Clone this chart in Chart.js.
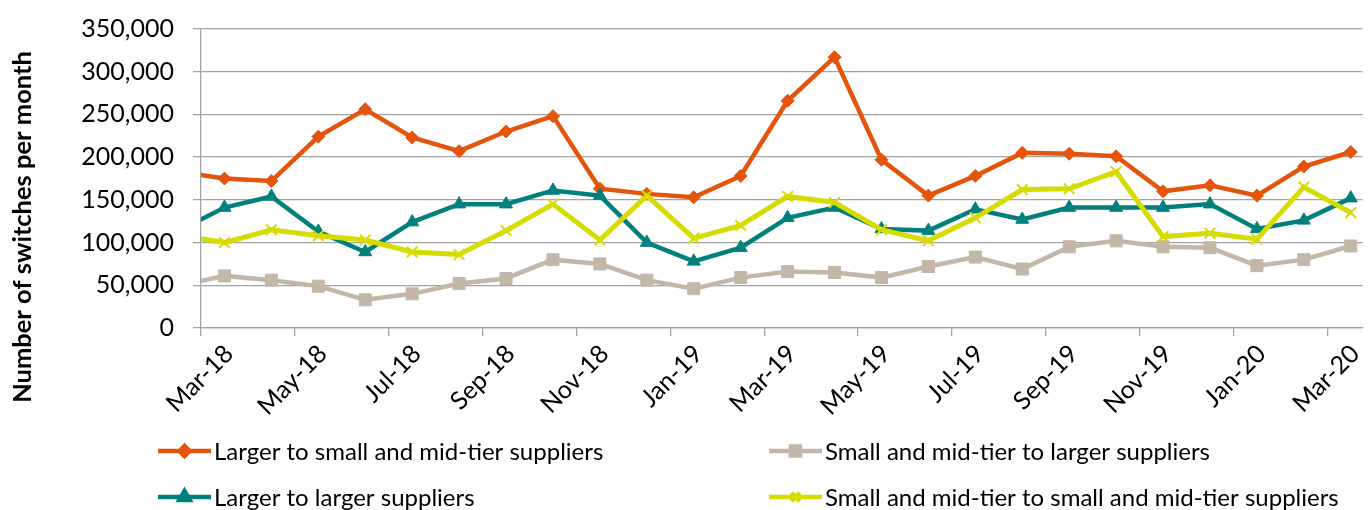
<!DOCTYPE html>
<html>
<head>
<meta charset="utf-8">
<script src="https://cdn.jsdelivr.net/npm/chart.js@4.4.1/dist/chart.umd.min.js"></script>
<style>
  html, body { margin: 0; padding: 0; background: #fff; }
  #wrap { width: 1372px; height: 510px; position: relative; }
</style>
</head>
<body>
<div id="wrap"><canvas id="chart-switches"></canvas></div>
<script>
// Months (Feb-18 sits just left of the axis and is clipped, as in the original)
const months = ['Feb-18', 'Mar-18', 'Apr-18', 'May-18', 'Jun-18', 'Jul-18', 'Aug-18', 'Sep-18', 'Oct-18',
  'Nov-18', 'Dec-18', 'Jan-19', 'Feb-19', 'Mar-19', 'Apr-19', 'May-19', 'Jun-19', 'Jul-19', 'Aug-19',
  'Sep-19', 'Oct-19', 'Nov-19', 'Dec-19', 'Jan-20', 'Feb-20', 'Mar-20'];
const tickLabels = ['Mar-18', 'May-18', 'Jul-18', 'Sep-18', 'Nov-18', 'Jan-19', 'Mar-19', 'May-19',
  'Jul-19', 'Sep-19', 'Nov-19', 'Jan-20', 'Mar-20'];
const yTicks = [0, 50000, 100000, 150000, 200000, 250000, 300000, 350000];

const largerToSmall = [183000, 175000, 172000, 224000, 256000, 223000, 207000, 230000, 248000, 163000, 157000, 153000,
  178000, 266000, 317000, 197000, 155000, 178000, 205000, 204000, 201000, 160000, 167000, 155000, 189000, 206000];
const smallToLarger = [49000, 61000, 56000, 49000, 33000, 40000, 52000, 58000, 80000, 75000, 56000, 46000,
  59000, 66000, 65000, 59000, 72000, 83000, 69000, 95000, 102000, 95000, 94000, 73000, 80000, 96000];
const largerToLarger = [113000, 141000, 154000, 113000, 89000, 124000, 145000, 145000, 161000, 155000, 100000, 78000,
  94000, 129000, 141000, 116000, 114000, 139000, 127000, 141000, 141000, 141000, 145000, 116000, 126000, 152000];
const smallToSmall = [109000, 100000, 115000, 108000, 103000, 89000, 86000, 114000, 145000, 103000, 155000, 105000,
  120000, 154000, 147000, 115000, 102000, 129000, 162000, 163000, 183000, 107000, 111000, 104000, 165000, 135000];

const FONT = "Lato, 'Open Sans', sans-serif";
const GRID = '#a3a3a3';

// each month is plotted mid-way between its tick and the next one
const toPoints = arr => arr.map((v, i) => ({ x: i - 0.5, y: v }));

const series = [
  { label: 'Larger to small and mid-tier suppliers', data: largerToSmall, color: '#E4540A', style: 'rectRot', r: 6.5, lr: 5, order: 3 },
  { label: 'Small and mid-tier to larger suppliers', data: smallToLarger, color: '#C3B7A8', style: 'rect', r: 8.5, lr: 6.5, order: 2 },
  { label: 'Larger to larger suppliers', data: largerToLarger, color: '#00807C', style: 'triangle', r: 7.5, lr: 6, order: 1 },
  { label: 'Small and mid-tier to small and mid-tier suppliers', data: smallToSmall, color: '#D6DB00', style: 'crossRot', r: 7.5, lr: 6, order: 0 }
];

// legend drawn by hand so the two columns line up like the original
const legendPlugin = {
  id: 'gridLegend',
  afterDraw(chart) {
    const ctx = chart.ctx;
    const cols = [158, 769], rows = [451, 497];
    const pos = [[0, 0], [1, 0], [0, 1], [1, 1]];
    ctx.save();
    series.forEach((s, i) => {
      const x = cols[pos[i][0]], y = rows[pos[i][1]];
      ctx.strokeStyle = s.color;
      ctx.lineWidth = 4.5;
      ctx.beginPath();
      ctx.moveTo(x, y);
      ctx.lineTo(x + 53, y);
      ctx.stroke();
      ctx.fillStyle = s.color;
      Chart.helpers.drawPoint(ctx, { pointStyle: s.style, radius: s.lr, borderWidth: 2, rotation: 0 }, x + 26.5, y);
      ctx.fillStyle = '#000';
      ctx.font = '24px ' + FONT;
      ctx.textBaseline = 'middle';
      ctx.textAlign = 'left';
      ctx.fillText(s.label, x + 56, y + 1);
    });
    // y-axis title
    ctx.translate(23, 227);
    ctx.rotate(-Math.PI / 2);
    ctx.font = 'bold 25.5px ' + FONT;
    ctx.textAlign = 'center';
    ctx.fillText('Number of switches per month', 0, 0);
    ctx.restore();
  }
};

new Chart(document.getElementById('chart-switches'), {
  type: 'line',
  data: {
    datasets: series.map(s => ({
      label: s.label,
      data: toPoints(s.data),
      order: s.order,
      borderColor: s.color,
      backgroundColor: s.color,
      borderWidth: s.style === 'crossRot' ? 5 : 4.5,
      pointStyle: s.style,
      pointRadius: s.r,
      pointBorderWidth: s.style === 'crossRot' ? 2 : 1,
      pointBorderColor: s.color,
      pointBackgroundColor: s.color,
      tension: 0,
      clip: 0
    }))
  },
  options: {
    responsive: true,
    maintainAspectRatio: false,
    animation: false,
    layout: { padding: { top: 29, right: 0, bottom: 0, left: 0 } },
    plugins: {
      legend: { display: false },
      tooltip: { enabled: false }
    },
    scales: {
      x: {
        type: 'linear',
        min: 0,
        max: 24.75,
        afterBuildTicks: s => { s.ticks = tickLabels.map((_, i) => ({ value: i * 2 })); },
        afterFit: s => { s.height = 182; s.paddingLeft = 0; s.paddingRight = 0; },
        ticks: {
          autoSkip: false,
          minRotation: 45,
          maxRotation: 45,
          labelOffset: 28,
          padding: 3,
          color: '#000',
          font: { family: FONT, size: 25 },
          callback: (v, i) => tickLabels[i]
        },
        grid: { drawOnChartArea: false, drawTicks: true, tickLength: 8, color: GRID, lineWidth: 1.3 },
        border: { color: GRID, width: 1.3 }
      },
      y: {
        min: 0,
        max: 350000,
        afterBuildTicks: s => { s.ticks = yTicks.map(v => ({ value: v })); },
        afterFit: s => { s.width = 201; s.paddingTop = 0; s.paddingBottom = 0; },
        ticks: {
          padding: 19,
          color: '#000',
          font: { family: FONT, size: 25 },
          callback: v => v.toLocaleString('en-US')
        },
        grid: { color: GRID, lineWidth: 1.3, tickLength: 8 },
        border: { color: GRID, width: 1.3 }
      }
    }
  },
  plugins: [legendPlugin]
});
</script>
</body>
</html>
